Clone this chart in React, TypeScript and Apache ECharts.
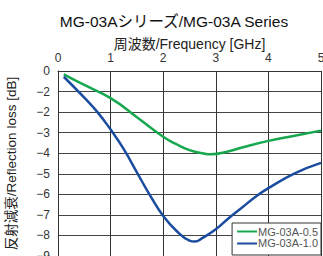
import React, { useEffect, useRef } from "react";
import * as echarts from "echarts";

const titleText = "MG-03Aシリーズ/MG-03A Series";
const xName = "周波数/Frequency [GHz]";
const yName = "反射減衰/Reflection loss [dB]";
const yTickLabels = ["0", "−2", "−2", "−3", "−4", "−5", "−6", "−7", "−8", "−9"];

const seriesNames = ["MG-03A-0.5", "MG-03A-1.0"];

const freqA = [0.11, 0.5, 1, 1.5, 2, 2.25, 2.5, 2.75, 2.9, 3.25, 3.5, 4, 4.5, 5];
const lossA = [-0.16, -0.68, -1.32, -2.25, -3.2, -3.56, -3.85, -4.0, -4.05, -3.9, -3.72, -3.4, -3.15, -2.9];

const freqB = [0.11, 0.5, 0.75, 1, 1.25, 1.5, 1.75, 2, 2.25, 2.5, 2.6, 2.75, 3, 3.25, 3.5, 3.75, 4, 4.5, 5];
const lossB = [-0.28, -1.3, -2.0, -2.85, -3.8, -4.93, -6.05, -7.05, -7.77, -8.25, -8.3, -8.12, -7.7, -7.15, -6.64, -6.13, -5.7, -4.98, -4.47];

const colors = ["#17a84f", "#1a4c9f"];
const font = "'Liberation Sans', Arial, 'Noto Sans CJK JP', sans-serif";

export default function App() {
  const ref = useRef<HTMLDivElement>(null);
  useEffect(() => {
    if (!ref.current) return;
    const chart = echarts.init(ref.current, null, { renderer: "svg" });
    const pairs = (xs: number[], ys: number[]) => xs.map((x, i) => [x, ys[i]]);
    chart.setOption({
      animation: false,
      textStyle: { fontFamily: font },
      title: {
        text: titleText,
        left: 169,
        textAlign: "center",
        top: 9,
        textStyle: { fontSize: 15.5, fontWeight: "normal", color: "#111", fontFamily: font },
      },
      grid: { left: 58, right: 2, top: 71, bottom: 0, outerBoundsMode: "none", containLabel: false },
      legend: {
        orient: "vertical",
        right: 2,
        top: 223,
        height: 40,
        data: seriesNames,
        icon: "rect",
        itemWidth: 20,
        itemHeight: 2,
        itemGap: 1,
        padding: [3, 3, 6, 5],
        backgroundColor: "#fff",
        borderColor: "#333",
        borderWidth: 1,
        borderRadius: 0,
        textStyle: { fontSize: 11, color: "#555", fontFamily: font, padding: [0, 0, 0, -4] },
      },
      xAxis: {
        type: "value",
        position: "top",
        min: 0,
        max: 5,
        interval: 1,
        name: xName,
        nameLocation: "middle",
        nameGap: 20,
        nameMoveOverlap: false,
        nameTextStyle: { fontSize: 14, color: "#222", fontFamily: font },
        axisLine: { show: true, lineStyle: { color: "#333", width: 1 } },
        axisTick: { show: false },
        axisLabel: { fontSize: 12, color: "#333", margin: 7, fontFamily: font },
        splitLine: { show: true, lineStyle: { color: "#333", width: 1 } },
      },
      yAxis: {
        type: "value",
        min: -9,
        max: 0,
        interval: 1,
        name: yName,
        nameLocation: "middle",
        nameGap: 40,
        nameRotate: 90,
        nameMoveOverlap: false,
        nameTextStyle: { fontSize: 13.5, color: "#222", fontFamily: font },
        axisLine: { show: true, lineStyle: { color: "#333", width: 1 } },
        axisTick: { show: false },
        axisLabel: {
          fontSize: 12,
          color: "#333",
          margin: 8,
          fontFamily: font,
          formatter: (v: number) => yTickLabels[Math.round(-v)] ?? "",
        },
        splitLine: { show: true, lineStyle: { color: "#444", width: 1 } },
      },
      series: [
        {
          name: seriesNames[0],
          type: "line",
          smooth: true,
          symbol: "none",
          data: pairs(freqA, lossA),
          lineStyle: { color: colors[0], width: 2.5 },
          itemStyle: { color: colors[0] },
        },
        {
          name: seriesNames[1],
          type: "line",
          smooth: true,
          symbol: "none",
          data: pairs(freqB, lossB),
          lineStyle: { color: colors[1], width: 2.5 },
          itemStyle: { color: colors[1] },
        },
      ],
    });
    return () => chart.dispose();
  }, []);
  return (
    <div
      ref={ref}
      style={{ position: "absolute", left: 0, top: 0, width: 323, height: 256, background: "#fff" }}
    />
  );
}
